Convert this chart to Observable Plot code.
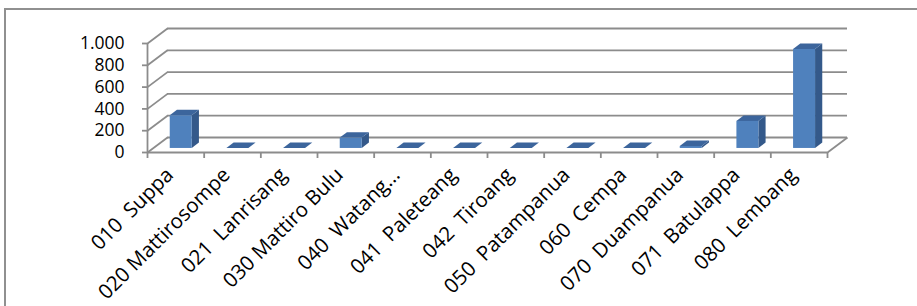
<!DOCTYPE html>
<html><head><meta charset="utf-8">
<script src="https://cdn.jsdelivr.net/npm/d3@7"></script>
<script src="https://cdn.jsdelivr.net/npm/@observablehq/plot@0.6"></script>
<style>
body{margin:0;background:#fff;}
#chart{position:relative;width:917px;height:306px;overflow:hidden;}
#frame{position:absolute;left:4px;top:8px;right:-4px;bottom:-4px;border-left:2px solid #909090;border-top:2px solid #909090;pointer-events:none;}
#chart svg text{white-space:pre;}
</style></head><body><div id="chart"></div>
<script>
const categories = ["010  Suppa","020 Mattirosompe","021  Lanrisang","030 Mattiro Bulu","040  Watang...","041  Paleteang","042  Tiroang","050  Patampanua","060  Cempa","070  Duampanua","071  Batulappa","080  Lembang"];
const values = [300, 0, 0, 95, 0, 0, 0, 0, 0, 18, 248, 908];
const yTicks = [0, 200, 400, 600, 800, 1000];

// 3D styling constants (depth expressed in data units)
const DX = 20 / (680 / 12);      // horizontal depth offset in category units
const DY = 15 * 1000 / 109;      // vertical depth offset in value units
const HW = 0.194;                // half width of a bar in category units
const F0 = 0.27, F1 = 0.63;      // bar depth start / end (fraction of wall depth)
const grid = "#8c8c8c";
const cFront = "#4f81bd", cSide = "#34598a", cTop = "#3c659c";

const idx = categories.map((_, i) => i);
const bounds = d3.range(-0.5, categories.length, 1);
const fmt = d3.formatLocale({decimal: ",", thousands: ".", grouping: [3], currency: ["", ""]}).format(",");

const fronts = values.map((v, i) => ({i, x1: i - HW + F0 * DX, x2: i + HW + F0 * DX, y1: F0 * DY, y2: v + F0 * DY}));
const sides = values.flatMap((v, i) => [
  {i, x: i + HW + F0 * DX, y1: F0 * DY, y2: v + F0 * DY},
  {i, x: i + HW + F1 * DX, y1: F1 * DY, y2: v + F1 * DY}
]);
const tops = values.flatMap((v, i) => [
  {i, y: v + F0 * DY, x1: i - HW + F0 * DX, x2: i + HW + F0 * DX},
  {i, y: v + F1 * DY, x1: i - HW + F1 * DX, x2: i + HW + F1 * DX}
]);
const xmin = -0.5, xmax = categories.length - 0.5;

const chart = Plot.plot({
  width: 917, height: 306,
  marginLeft: 147, marginRight: 90, marginTop: 43, marginBottom: 154,
  style: {fontFamily: "'Open Sans', sans-serif", color: "#000", background: "transparent"},
  x: {type: "linear", domain: [xmin, xmax], axis: null},
  y: {domain: [0, 1000], axis: null},
  marks: [
    // back wall gridlines
    Plot.ruleY(yTicks, {y: d => d + DY, x1: xmin + DX, x2: xmax + DX, stroke: grid, strokeWidth: 1.8}),
    // left wall connectors
    Plot.link(yTicks, {x1: xmin, y1: d => d, x2: xmin + DX, y2: d => d + DY, stroke: grid, strokeWidth: 1.8}),
    // front axis line and floor edges
    Plot.ruleX([xmin], {y1: 0, y2: 1000, stroke: grid, strokeWidth: 1.8}),
    Plot.ruleY([0], {x1: xmin, x2: xmax, stroke: grid, strokeWidth: 1.8}),
    Plot.link([0], {x1: xmax, y1: 0, x2: xmax + DX, y2: DY, stroke: grid, strokeWidth: 1.8}),
    // y axis
    Plot.axisY(yTicks, {anchor: "left", tickSize: 5, tickPadding: 18, tickFormat: fmt, fontSize: 17.5, stroke: grid, strokeWidth: 1.8, fill: "#000"}),
    // x axis boundary ticks
    Plot.axisX(bounds, {anchor: "bottom", tickSize: 6, tickFormat: () => "", stroke: grid, strokeWidth: 1.8}),
    // bars
    Plot.areaY(sides, {x: "x", y1: "y1", y2: "y2", z: "i", fill: cSide}),
    Plot.areaX(tops, {y: "y", x1: "x1", x2: "x2", z: "i", fill: cTop}),
    Plot.rect(fronts, {x1: "x1", x2: "x2", y1: "y1", y2: "y2", fill: cFront}),
    // category labels
    Plot.text(idx, {x: d => d, y: 0, text: d => categories[d], rotate: -45, textAnchor: "end", dx: -6, dy: 19, fontSize: 20.5, fill: "#000"})
  ]
});
const host = document.getElementById("chart");
host.appendChild(chart);
const fr = document.createElement("div"); fr.id = "frame"; host.appendChild(fr);
</script>
</body></html>
